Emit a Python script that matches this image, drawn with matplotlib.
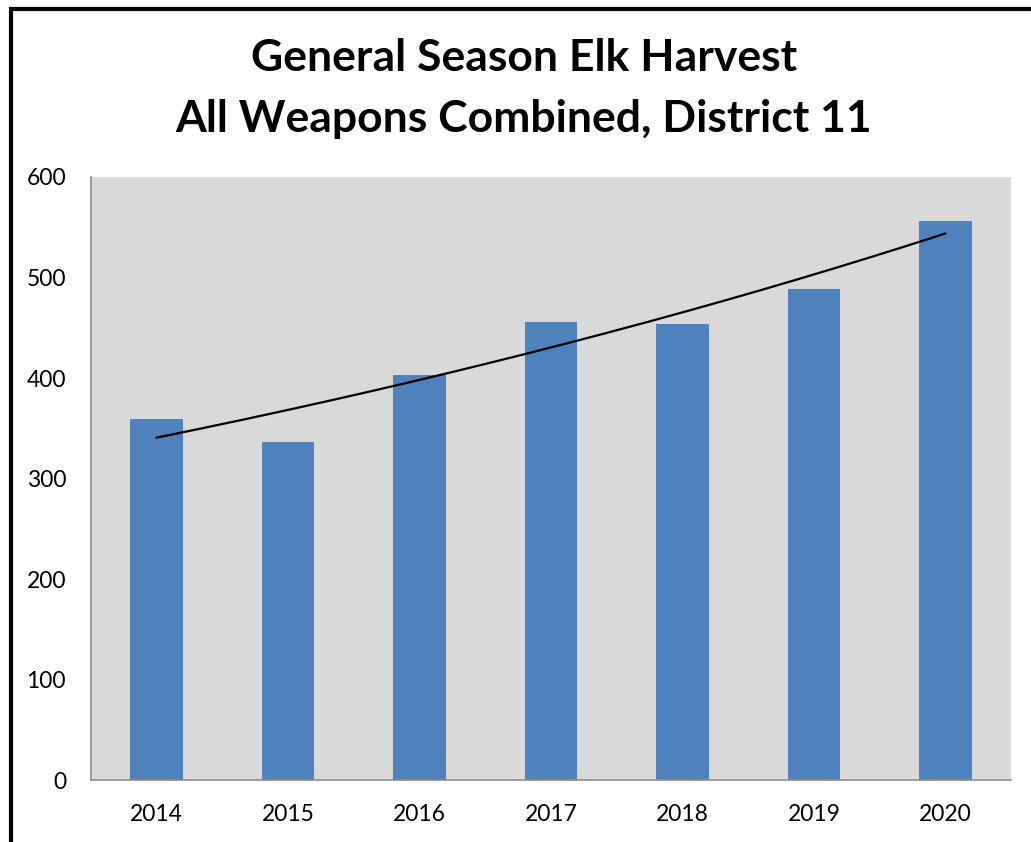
import numpy as np
import matplotlib.pyplot as plt
from matplotlib.patches import Rectangle

years = ['2014', '2015', '2016', '2017', '2018', '2019', '2020']
harvest = [359, 336, 403, 456, 454, 489, 556]
yticks = [0, 100, 200, 300, 400, 500, 600]

plt.rcParams['font.family'] = ['Lato', 'DejaVu Sans']

fig = plt.figure(figsize=(10.31, 8.42), dpi=100)
ax = fig.add_axes([0.0883, 0.0736, 0.8923, 0.7162])

x = np.arange(len(years))
ax.bar(x, harvest, width=0.4, color='#4F81BD', zorder=2)

# exponential trendline (log-linear fit, like Excel)
coef = np.polyfit(x, np.log(harvest), 1)
xs = np.linspace(x[0], x[-1], 200)
ax.plot(xs, np.exp(np.polyval(coef, xs)), color='black', lw=1.6, zorder=3)

ax.set_facecolor('#D9D9D9')
ax.set_xlim(-0.5, len(years) - 0.5)
ax.set_ylim(0, 600)
ax.set_xticks(x)
ax.set_xticklabels(years)
ax.set_yticks(yticks)
ax.tick_params(length=0, labelsize=16.5)
ax.tick_params(axis='x', pad=17)
ax.tick_params(axis='y', pad=18)
for s in ['top', 'right']:
    ax.spines[s].set_visible(False)
for s in ['left', 'bottom']:
    ax.spines[s].set_color('#8C8C8C')
    ax.spines[s].set_linewidth(1.2)

fig.text(0.508, 0.931, 'General Season Elk Harvest', ha='center', va='center',
         fontsize=32, fontweight='bold')
fig.text(0.508, 0.859, 'All Weapons Combined, District 11', ha='center', va='center',
         fontsize=32, fontweight='bold')

# outer frame, cut off at right/bottom like the source
fig.patches.append(Rectangle((0.0105, -0.1), 1.2, 1.089, transform=fig.transFigure,
                             fill=False, edgecolor='black', lw=3))

fig.savefig('out.png', dpi=100)
